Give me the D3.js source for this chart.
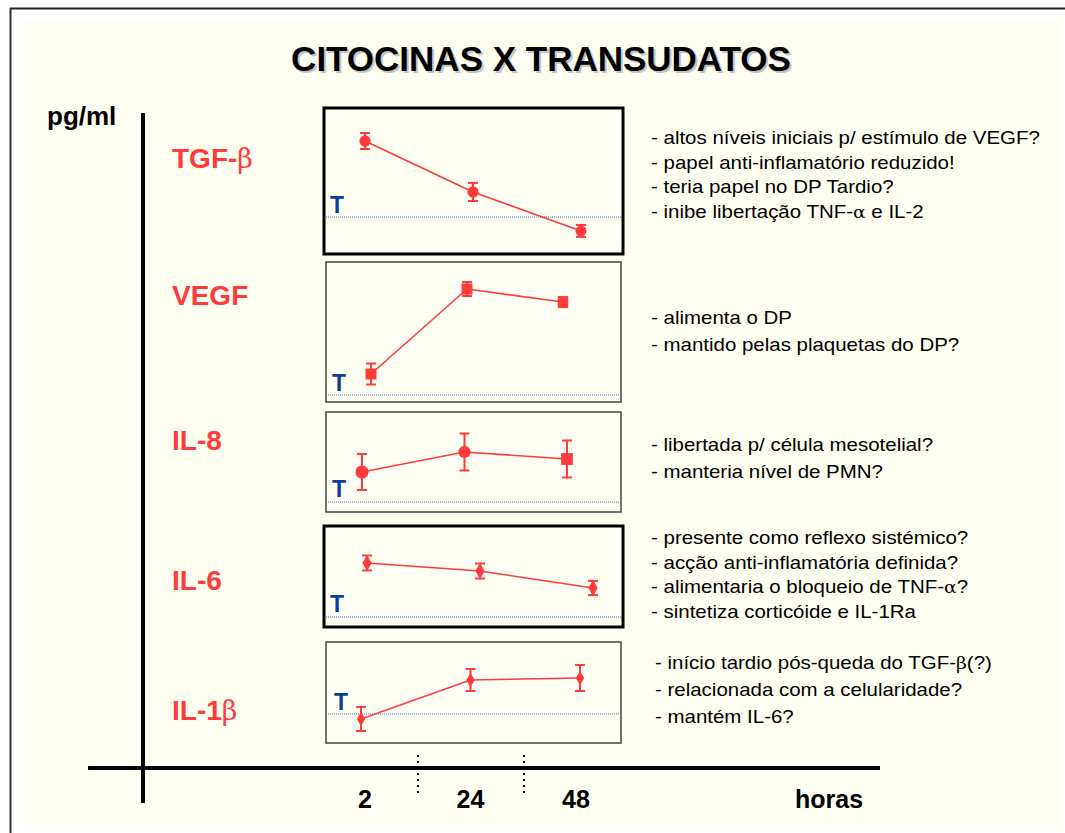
<!DOCTYPE html>
<html>
<head>
<meta charset="utf-8">
<script src="https://cdn.jsdelivr.net/npm/d3@7"></script>
<style>
  body { margin: 0; background: #fff; }
  svg { display: block; font-family: "Liberation Sans", Arial, sans-serif; }
</style>
</head>
<body>
<script>
// data (relative units, 0-100 = panel height)
const times = ["2", "24", "48"];
const cytokines = ["TGF-", "VEGF", "IL-8", "IL-6", "IL-1"];
const greek = ["β", "", "", "", "β"];
const values = [
  [77.4, 42.5, 15.8],
  [20.0, 80.7, 71.4],
  [40.0, 60.0, 53.0],
  [63.4, 55.4, 38.6],
  [23.8, 62.4, 64.4]
];
const errors = [
  [5.5, 6.2, 4.1],
  [7.5, 5.0, 3.6],
  [18, 18.5, 18.5],
  [7.4, 7.4, 7.0],
  [11.9, 10.9, 12.9]
];
const thresholds = [25.3, 5.0, 10.0, 9.9, 28.7];
const markers = [
  ["circle", "circle", "circle"],
  ["square", "square", "square"],
  ["circle", "circle", "square"],
  ["diamond", "diamond", "diamond"],
  ["diamond", "diamond", "diamond"]
];
const notes = [
  ["- altos níveis iniciais p/ estímulo de VEGF?", "- papel anti-inflamatório reduzido!", "- teria papel no DP Tardio?", "- inibe libertação TNF-|α| e IL-2"],
  ["-  alimenta o DP", "-  mantido pelas plaquetas do DP?"],
  ["- libertada p/ célula mesotelial?", "- manteria nível de PMN?"],
  ["- presente como reflexo sistémico?", "- acção anti-inflamatória definida?", "- alimentaria o bloqueio de TNF-|α|?", "- sintetiza corticóide e IL-1Ra"],
  ["- início tardio pós-queda do TGF-|β|(?)", "- relacionada com a celularidade?", "- mantém IL-6?"]
];

// layout
const W = 1065, H = 833;
const panels = [
  {x0: 324, x1: 623, y0: 108, y1: 254, thick: true,  px: [365, 581], labelY: 168, tY: 213, noteX: 651, noteY: 144, gap: 24.7},
  {x0: 326, x1: 621, y0: 262, y1: 402, thick: false, px: [371, 563], labelY: 305, tY: 391, noteX: 651, noteY: 324, gap: 27},
  {x0: 326, x1: 621, y0: 412, y1: 512, thick: false, px: [362, 567], labelY: 450, tY: 497, noteX: 651, noteY: 451, gap: 27},
  {x0: 324, x1: 623, y0: 526, y1: 627, thick: true,  px: [367, 593], labelY: 590, tY: 612, noteX: 651, noteY: 544, gap: 24.7},
  {x0: 326, x1: 621, y0: 642, y1: 743, thick: false, px: [361, 580], labelY: 720, tY: 710, noteX: 655, noteY: 669, gap: 27}
];
const RED = "#ff3b3b";
const BLUE = "#0b3d99";
const CREAM = "#fefef1";
const NOTE_STRETCH = 1.17;

const svg = d3.select("body").append("svg")
  .attr("width", W)
  .attr("height", H);

// page frame
svg.append("rect").attr("x", 23).attr("y", 21).attr("width", 1038).attr("height", 805).attr("fill", CREAM);
svg.append("line").attr("x1", 10).attr("x2", W).attr("y1", 8.5).attr("y2", 8.5).attr("stroke", "#222").attr("stroke-width", 2);
svg.append("line").attr("x1", 10.5).attr("x2", 10.5).attr("y1", 8).attr("y2", H).attr("stroke", "#333").attr("stroke-width", 2);

// title
svg.append("text")
  .attr("x", 543).attr("y", 73)
  .attr("text-anchor", "middle")
  .attr("font-size", 35).attr("font-weight", "bold")
  .attr("fill", "#c4c4c4")
  .text("CITOCINAS X TRANSUDATOS");
svg.append("text")
  .attr("x", 541).attr("y", 71)
  .attr("text-anchor", "middle")
  .attr("font-size", 35).attr("font-weight", "bold")
  .attr("fill", "#000")
  .text("CITOCINAS X TRANSUDATOS");

svg.append("text")
  .attr("x", 47).attr("y", 125)
  .attr("font-size", 26).attr("font-weight", "bold")
  .text("pg/ml");

// main axes
svg.append("line").attr("x1", 143).attr("x2", 143).attr("y1", 113).attr("y2", 803)
  .attr("stroke", "#000").attr("stroke-width", 4);
svg.append("line").attr("x1", 88).attr("x2", 880).attr("y1", 768).attr("y2", 768)
  .attr("stroke", "#000").attr("stroke-width", 4);

const xAxisScale = d3.scalePoint().domain(times).range([365, 576]);
svg.append("g").selectAll("text")
  .data(times)
  .join("text")
    .attr("x", d => xAxisScale(d))
    .attr("y", 808)
    .attr("text-anchor", "middle")
    .attr("font-size", 25).attr("font-weight", "bold")
    .text(d => d);
svg.append("text")
  .attr("x", 829).attr("y", 808)
  .attr("text-anchor", "middle")
  .attr("font-size", 25).attr("font-weight", "bold")
  .text("horas");

// dotted separators between time points
[418, 524].forEach(x => {
  svg.append("line").attr("x1", x).attr("x2", x).attr("y1", 755).attr("y2", 794)
    .attr("stroke", "#000").attr("stroke-width", 2).attr("stroke-dasharray", "2,4");
});

const symbolType = {circle: d3.symbolCircle, square: d3.symbolSquare, diamond: d3.symbolDiamond};
const symbolSize = [[100, 100, 95], [120, 120, 110], [135, 120, 140], [75, 75, 75], [60, 60, 60]];

panels.forEach((p, i) => {
  const g = svg.append("g");

  g.append("rect")
    .attr("x", p.x0).attr("y", p.y0)
    .attr("width", p.x1 - p.x0).attr("height", p.y1 - p.y0)
    .attr("fill", "#fffff4")
    .attr("stroke", p.thick ? "#000" : "#444")
    .attr("stroke-width", p.thick ? 3 : 1.5);

  const x = d3.scalePoint().domain(times).range(p.px);
  const y = d3.scaleLinear().domain([0, 100]).range([p.y1, p.y0]);

  const pts = times.map((t, j) => ({t, v: values[i][j], e: errors[i][j], m: markers[i][j], s: symbolSize[i][j]}));

  // threshold line
  g.append("line")
    .attr("x1", p.x0 + 2).attr("x2", p.x1 - 1)
    .attr("y1", y(thresholds[i])).attr("y2", y(thresholds[i]))
    .attr("stroke", "#3a6fd0").attr("stroke-width", 1)
    .attr("stroke-dasharray", "1,1");
  g.append("text")
    .attr("x", p.x0 + (i === 4 ? 8 : 6)).attr("y", p.tY)
    .attr("font-size", 23).attr("font-weight", "bold")
    .attr("fill", BLUE)
    .text("T");

  g.append("path")
    .datum(pts)
    .attr("fill", "none")
    .attr("stroke", RED)
    .attr("stroke-width", 1.6)
    .attr("d", d3.line().x(d => x(d.t)).y(d => y(d.v)));

  const eb = g.selectAll("g.err").data(pts).join("g").attr("class", "err")
    .attr("stroke", RED).attr("stroke-width", 2);
  eb.append("line")
    .attr("x1", d => x(d.t)).attr("x2", d => x(d.t))
    .attr("y1", d => y(d.v + d.e)).attr("y2", d => y(d.v - d.e));
  eb.append("line")
    .attr("x1", d => x(d.t) - 5).attr("x2", d => x(d.t) + 5)
    .attr("y1", d => y(d.v + d.e)).attr("y2", d => y(d.v + d.e));
  eb.append("line")
    .attr("x1", d => x(d.t) - 5).attr("x2", d => x(d.t) + 5)
    .attr("y1", d => y(d.v - d.e)).attr("y2", d => y(d.v - d.e));

  g.selectAll("path.mark").data(pts).join("path")
    .attr("class", "mark")
    .attr("transform", d => `translate(${x(d.t)},${y(d.v)})`)
    .attr("d", d => d3.symbol().type(symbolType[d.m]).size(d.s)())
    .attr("fill", RED);

  // cytokine label
  const lab = svg.append("text")
    .attr("x", 172).attr("y", p.labelY)
    .attr("font-size", 28).attr("font-weight", "bold")
    .attr("fill", RED);
  lab.append("tspan").text(cytokines[i]);
  if (greek[i]) {
    lab.append("tspan")
      .attr("font-family", "'DejaVu Serif', serif")
      .attr("font-weight", "normal")
      .attr("font-size", 27)
      .text(greek[i]);
  }

  // notes (the slide text is stretched sideways)
  notes[i].forEach((line, k) => {
    const t = svg.append("text")
      .attr("transform", `translate(${p.noteX},${p.noteY + k * p.gap}) scale(${NOTE_STRETCH},1)`)
      .attr("font-size", 17.5)
      .attr("fill", "#000");
    line.split("|").forEach((part, n) => {
      const ts = t.append("tspan").text(part);
      if (n % 2 === 1) ts.attr("font-family", "'DejaVu Serif', serif").attr("font-size", 16);
    });
  });
});
</script>
</body>
</html>
